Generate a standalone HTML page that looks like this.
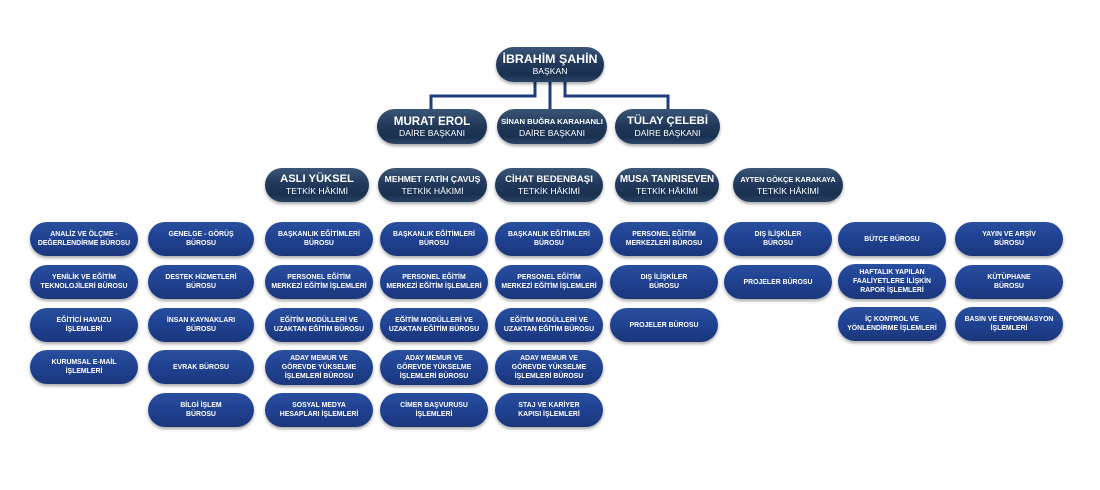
<!DOCTYPE html>
<html>
<head>
<meta charset="utf-8">
<style>
html,body{margin:0;padding:0;background:#fff;}
body{width:1100px;height:490px;position:relative;overflow:hidden;font-family:"Liberation Sans",Arial,sans-serif;}
.p{position:absolute;box-sizing:border-box;border-radius:18px;color:#fff;text-align:center;display:flex;flex-direction:column;justify-content:center;align-items:center;white-space:nowrap;}
.u{background:linear-gradient(180deg,#3a5676 0%,#23395b 45%,#1a3050 78%,#2a4467 100%);box-shadow:0 2px 3px rgba(0,0,0,0.35);}
.u b{display:block;font-weight:bold;line-height:13px;}
.u span{display:block;font-size:8.6px;line-height:11px;}
.l{background:linear-gradient(180deg,#2a4f9f 0%,#204293 45%,#1b377b 100%);box-shadow:0 2px 3px rgba(0,0,0,0.35);font-weight:bold;font-size:6.9px;line-height:9px;width:108px;height:34px;}
svg{position:absolute;left:0;top:0;}
</style>
</head>
<body>
<svg width="1100" height="490">
<g fill="none" stroke="#1f3c7c" stroke-width="3">
<polyline points="535,80 535,96 431,96 431,112"/>
<polyline points="550,80 550,112"/>
<polyline points="565,80 565,96 668,96 668,112"/>
</g>
</svg>

<div class="p u" style="left:496px;top:47px;width:108px;height:35px;"><b style="font-size:12.4px">İBRAHİM ŞAHİN</b><span>BAŞKAN</span></div>

<div class="p u" style="left:377px;top:109px;width:110px;height:35px;"><b style="font-size:11.6px">MURAT EROL</b><span>DAİRE BAŞKANI</span></div>
<div class="p u" style="left:497px;top:109px;width:110px;height:35px;"><b style="font-size:7.7px">SİNAN BUĞRA KARAHANLI</b><span>DAİRE BAŞKANI</span></div>
<div class="p u" style="left:615px;top:109px;width:105px;height:35px;"><b style="font-size:11.3px">TÜLAY ÇELEBİ</b><span>DAİRE BAŞKANI</span></div>

<div class="p u" style="left:265px;top:168px;width:104px;height:34px;"><b style="font-size:11.2px">ASLI YÜKSEL</b><span>TETKİK HÂKİMİ</span></div>
<div class="p u" style="left:378px;top:168px;width:109px;height:34px;"><b style="font-size:8.6px">MEHMET FATİH ÇAVUŞ</b><span>TETKİK HÂKİMİ</span></div>
<div class="p u" style="left:495px;top:168px;width:108px;height:34px;"><b style="font-size:9.6px">CİHAT BEDENBAŞI</b><span>TETKİK HÂKİMİ</span></div>
<div class="p u" style="left:615px;top:168px;width:104px;height:34px;"><b style="font-size:9.9px">MUSA TANRISEVEN</b><span>TETKİK HÂKİMİ</span></div>
<div class="p u" style="left:733px;top:168px;width:110px;height:34px;"><b style="font-size:7.3px">AYTEN GÖKÇE KARAKAYA</b><span>TETKİK HÂKİMİ</span></div>

<!-- col1 -->
<div class="p l" style="left:30px;top:222px;">ANALİZ VE ÖLÇME -<br>DEĞERLENDİRME BÜROSU</div>
<div class="p l" style="left:30px;top:265px;">YENİLİK VE EĞİTİM<br>TEKNOLOJİLERİ BÜROSU</div>
<div class="p l" style="left:30px;top:308px;">EĞİTİCİ HAVUZU<br>İŞLEMLERİ</div>
<div class="p l" style="left:30px;top:350px;">KURUMSAL E-MAİL<br>İŞLEMLERİ</div>
<!-- col2 -->
<div class="p l" style="left:148px;top:222px;width:106px;">GENELGE - GÖRÜŞ<br>BÜROSU</div>
<div class="p l" style="left:148px;top:265px;width:106px;">DESTEK HİZMETLERİ<br>BÜROSU</div>
<div class="p l" style="left:148px;top:308px;width:106px;">İNSAN KAYNAKLARI<br>BÜROSU</div>
<div class="p l" style="left:148px;top:350px;width:106px;">EVRAK BÜROSU</div>
<div class="p l" style="left:148px;top:393px;width:106px;">BİLGİ İŞLEM<br>BÜROSU</div>
<!-- col3 -->
<div class="p l" style="left:265px;top:222px;">BAŞKANLIK EĞİTİMLERİ<br>BÜROSU</div>
<div class="p l" style="left:265px;top:265px;">PERSONEL EĞİTİM<br>MERKEZİ EĞİTİM İŞLEMLERİ</div>
<div class="p l" style="left:265px;top:308px;">EĞİTİM MODÜLLERİ VE<br>UZAKTAN EĞİTİM BÜROSU</div>
<div class="p l" style="left:265px;top:350px;height:35px;">ADAY MEMUR VE<br>GÖREVDE YÜKSELME<br>İŞLEMLERİ BÜROSU</div>
<div class="p l" style="left:265px;top:393px;">SOSYAL MEDYA<br>HESAPLARI İŞLEMLERİ</div>
<!-- col4 -->
<div class="p l" style="left:380px;top:222px;">BAŞKANLIK EĞİTİMLERİ<br>BÜROSU</div>
<div class="p l" style="left:380px;top:265px;">PERSONEL EĞİTİM<br>MERKEZİ EĞİTİM İŞLEMLERİ</div>
<div class="p l" style="left:380px;top:308px;">EĞİTİM MODÜLLERİ VE<br>UZAKTAN EĞİTİM BÜROSU</div>
<div class="p l" style="left:380px;top:350px;height:35px;">ADAY MEMUR VE<br>GÖREVDE YÜKSELME<br>İŞLEMLERİ BÜROSU</div>
<div class="p l" style="left:380px;top:393px;">CİMER BAŞVURUSU<br>İŞLEMLERİ</div>
<!-- col5 -->
<div class="p l" style="left:495px;top:222px;">BAŞKANLIK EĞİTİMLERİ<br>BÜROSU</div>
<div class="p l" style="left:495px;top:265px;">PERSONEL EĞİTİM<br>MERKEZİ EĞİTİM İŞLEMLERİ</div>
<div class="p l" style="left:495px;top:308px;">EĞİTİM MODÜLLERİ VE<br>UZAKTAN EĞİTİM BÜROSU</div>
<div class="p l" style="left:495px;top:350px;height:35px;">ADAY MEMUR VE<br>GÖREVDE YÜKSELME<br>İŞLEMLERİ BÜROSU</div>
<div class="p l" style="left:495px;top:393px;">STAJ VE KARİYER<br>KAPISI İŞLEMLERİ</div>
<!-- col6 -->
<div class="p l" style="left:610px;top:222px;">PERSONEL EĞİTİM<br>MERKEZLERİ BÜROSU</div>
<div class="p l" style="left:610px;top:265px;">DIŞ İLİŞKİLER<br>BÜROSU</div>
<div class="p l" style="left:610px;top:308px;">PROJELER BÜROSU</div>
<!-- col7 -->
<div class="p l" style="left:724px;top:222px;">DIŞ İLİŞKİLER<br>BÜROSU</div>
<div class="p l" style="left:724px;top:265px;">PROJELER BÜROSU</div>
<!-- col8 -->
<div class="p l" style="left:838px;top:222px;">BÜTÇE BÜROSU</div>
<div class="p l" style="left:838px;top:264px;height:35px;">HAFTALIK YAPILAN<br>FAALİYETLERE İLİŞKİN<br>RAPOR İŞLEMLERİ</div>
<div class="p l" style="left:838px;top:307px;">İÇ KONTROL VE<br>YÖNLENDİRME İŞLEMLERİ</div>
<!-- col9 -->
<div class="p l" style="left:955px;top:222px;">YAYIN VE ARŞİV<br>BÜROSU</div>
<div class="p l" style="left:955px;top:265px;">KÜTÜPHANE<br>BÜROSU</div>
<div class="p l" style="left:955px;top:307px;">BASIN VE ENFORMASYON<br>İŞLEMLERİ</div>
</body>
</html>
